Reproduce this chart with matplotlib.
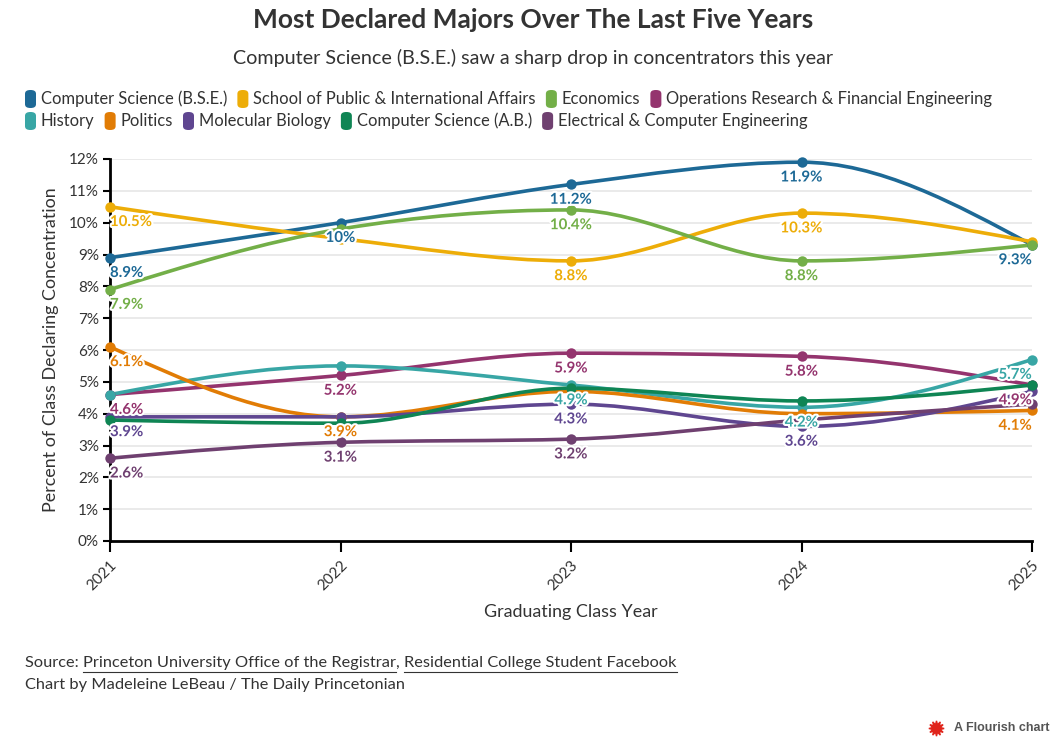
import numpy as np
import matplotlib
matplotlib.use('Agg')
import matplotlib.pyplot as plt
import matplotlib.patheffects as pe
from matplotlib.path import Path
from matplotlib.patches import PathPatch, FancyBboxPatch
from matplotlib.lines import Line2D

# ---------------- data ----------------
years = [2021, 2022, 2023, 2024, 2025]
majors = ["Computer Science (B.S.E.)", "School of Public & International Affairs", "Economics",
          "Operations Research & Financial Engineering", "History", "Politics",
          "Molecular Biology", "Computer Science (A.B.)", "Electrical & Computer Engineering"]
cs_bse = [8.9, 10.0, 11.2, 11.9, 9.3]
spia = [10.5, 9.5, 8.8, 10.3, 9.4]
economics = [7.9, 9.8, 10.4, 8.8, 9.3]
orfe = [4.6, 5.2, 5.9, 5.8, 4.9]
history = [4.6, 5.5, 4.9, 4.2, 5.7]
politics = [6.1, 3.9, 4.7, 4.0, 4.1]
mol_bio = [3.9, 3.9, 4.3, 3.6, 4.7]
cs_ab = [3.8, 3.7, 4.8, 4.4, 4.9]
ece = [2.6, 3.1, 3.2, 3.8, 4.3]
series = [cs_bse, spia, economics, orfe, history, politics, mol_bio, cs_ab, ece]
# which value labels are displayed (others hidden by overlap avoidance in original)
label_shown = [
    [1, 1, 1, 1, 1],
    [1, 0, 1, 1, 0],
    [1, 0, 1, 1, 0],
    [1, 1, 1, 1, 1],
    [0, 0, 1, 1, 1],
    [1, 1, 0, 0, 1],
    [1, 0, 1, 1, 0],
    [0, 0, 0, 0, 0],
    [1, 1, 1, 0, 0],
]
y_ticks = list(range(0, 13))
colors = ["#1D6996", "#EDAD08", "#73AF48", "#94346E", "#38A6A5", "#E17C05",
          "#5F4690", "#0F8554", "#6F4070"]

FONT = "Lato"
plt.rcParams['font.family'] = [FONT, 'DejaVu Sans']
TXT = "#333333"

W, H = 1060, 742
fig = plt.figure(figsize=(W / 100, H / 100), dpi=100)
def fx(x): return x / W
def fy(y): return 1 - y / H

ax = fig.add_axes([fx(110), fy(541), fx(1032) - fx(110), fy(159) - fy(541)])
ax.set_xlim(years[0], years[-1])
ax.set_ylim(0, 12)

def monotone_path(x, y):
    x = np.asarray(x, float); y = np.asarray(y, float)
    n = len(x)
    h = np.diff(x)
    s = np.diff(y) / h
    t = np.zeros(n)
    for i in range(1, n - 1):
        h0, h1 = h[i - 1], h[i]
        s0, s1 = s[i - 1], s[i]
        p = (s0 * h1 + s1 * h0) / (h0 + h1)
        t[i] = (np.sign(s0) + np.sign(s1)) * min(abs(s0), abs(s1), 0.5 * abs(p))
    t[0] = (3 * s[0] - t[1]) / 2
    t[-1] = (3 * s[-1] - t[-2]) / 2
    verts = [(x[0], y[0])]
    codes = [Path.MOVETO]
    for i in range(n - 1):
        dx = (x[i + 1] - x[i]) / 3
        verts += [(x[i] + dx, y[i] + dx * t[i]), (x[i + 1] - dx, y[i + 1] - dx * t[i + 1]),
                  (x[i + 1], y[i + 1])]
        codes += [Path.CURVE4] * 3
    return Path(verts, codes)

for yv in y_ticks[1:]:
    ax.axhline(yv, color="#e8e8e8", lw=1.3, zorder=0)

for k, (vals, col) in enumerate(zip(series, colors)):
    patch = PathPatch(monotone_path(years, vals), fill=False, edgecolor=col, lw=2.6,
                      zorder=2 + k * 0.01, clip_on=False, capstyle='round')
    ax.add_patch(patch)
    ax.plot(years, vals, 'o', color=col, ms=7.5, mec='none', zorder=3 + k * 0.01, clip_on=False)

for k, (vals, col) in enumerate(zip(series, colors)):
    for i, (xv, yv) in enumerate(zip(years, vals)):
        if not label_shown[k][i]:
            continue
        ha = 'left' if i == 0 else ('right' if i == len(years) - 1 else 'center')
        txt = f"{yv:g}%"
        ax.annotate(txt, (xv, yv), xytext=(0, -11), textcoords='offset points',
                    ha=ha, va='center', fontsize=10.8, fontweight='bold', color=col,
                    zorder=6, annotation_clip=False,
                    path_effects=[pe.withStroke(linewidth=3, foreground='white')])

ax.set_yticks(y_ticks)
ax.set_yticklabels([f"{v}%" for v in y_ticks])
ax.set_xticks(years)
ax.set_xticklabels([str(y) for y in years], rotation=45, ha='right', va='top',
                   rotation_mode='anchor')
for s in ['top', 'right']:
    ax.spines[s].set_visible(False)
ax.spines['left'].set_linewidth(2)
ax.spines['bottom'].set_linewidth(2)
ax.tick_params(axis='y', length=5, width=1.5, labelsize=11, labelcolor=TXT, pad=3)
ax.tick_params(axis='x', length=8, width=1.5, labelsize=11, labelcolor=TXT, pad=4)
ax.set_facecolor('none')

ax.set_ylabel("Percent of Class Declaring Concentration", fontsize=12.9, color=TXT, labelpad=7)
fig.text(fx(571), fy(612), "Graduating Class Year", fontsize=12.9, color=TXT,
         ha='center', va='center')

fig.text(fx(533), fy(20), "Most Declared Majors Over The Last Five Years", fontsize=19,
         fontweight='bold', color=TXT, ha='center', va='center')
fig.text(fx(533), fy(58), "Computer Science (B.S.E.) saw a sharp drop in concentrators this year",
         fontsize=14.2, color=TXT, ha='center', va='center')

# legend
fig.canvas.draw()
renderer = fig.canvas.get_renderer()
rows = [(0, 4, 99), (4, 9, 121)]
for a, b, yc in rows:
    x = 25
    for k in range(a, b):
        sw = FancyBboxPatch((fx(x), fy(yc + 9)), fx(11), fy(0) - fy(18),
                            boxstyle="round,pad=0,rounding_size=0.005",
                            transform=fig.transFigure, facecolor=colors[k], edgecolor='none')
        fig.add_artist(sw)
        t = fig.text(fx(x + 16), fy(yc), majors[k], fontsize=11.9, color=TXT,
                     ha='left', va='center')
        bb = t.get_window_extent(renderer)
        x = x + 16 + bb.width + 10

# footer
fs = 11.8
t1 = fig.text(fx(25), fy(663), "Source: ", fontsize=fs, color=TXT, ha='left', va='center')
bb = t1.get_window_extent(renderer)
x = 25 + bb.width
parts = [("Princeton University Office of the Registrar", True), (", ", False),
         ("Residential College Student Facebook", True)]
for s, ul in parts:
    t = fig.text(fx(x), fy(663), s, fontsize=fs, color=TXT, ha='left', va='center')
    b = t.get_window_extent(renderer)
    if ul:
        fig.add_artist(Line2D([fx(x), fx(x + b.width)], [fy(672), fy(672)],
                              transform=fig.transFigure, color=TXT, lw=0.8))
    x += b.width
fig.text(fx(25), fy(685), "Chart by Madeleine LeBeau / The Daily Princetonian", fontsize=fs,
         color=TXT, ha='left', va='center')

fig.text(fx(1050), fy(728), "A Flourish chart", fontsize=9, color="#555555",
         family=['Liberation Sans', 'DejaVu Sans'], fontweight='bold', ha='right', va='center')
fig.add_artist(Line2D([fx(936)], [fy(728)], marker=(12, 1, 0), ms=11, color="#e0241b",
                      transform=fig.transFigure, ls='none'))

fig.savefig("out.png", dpi=100, facecolor='white')
